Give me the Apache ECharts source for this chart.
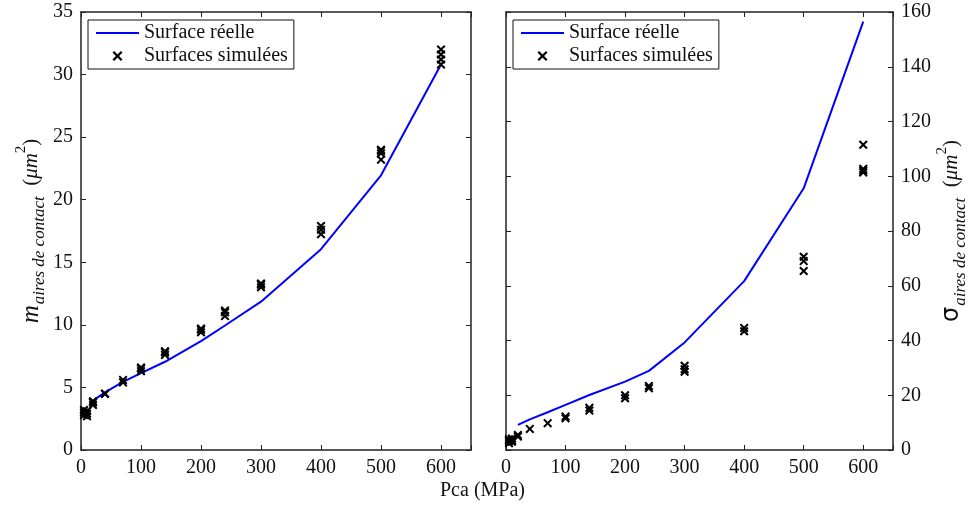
<!DOCTYPE html>
<html><head><meta charset="utf-8">
<script src="https://cdn.jsdelivr.net/npm/echarts@6/dist/echarts.min.js"></script>
<style>html,body{margin:0;padding:0;background:#fff}#c{width:973px;height:509px}</style>
</head><body><div id="c"></div>
<script>
// ---- data ----
const lineX = [20, 40, 70, 100, 140, 200, 240, 300, 400, 500, 600];
const meanReal = [3.95, 4.6, 5.45, 6.15, 7.05, 8.7, 9.95, 11.85, 16.05, 21.95, 30.8];
const sigmaReal = [9.2, 11.2, 13.8, 16.5, 20.1, 25.0, 28.9, 39.3, 61.7, 95.6, 156.5];
const simX = [5, 10, 20, 40, 70, 100, 140, 200, 240, 300, 400, 500, 600];
const meanSim = [
  [2.8, 3.0, 3.2], [2.7, 2.9, 3.1], [3.6, 3.8, 3.9], [4.5, 4.5], [5.4, 5.6],
  [6.3, 6.5, 6.6], [7.6, 7.8, 7.9], [9.4, 9.6, 9.7], [10.7, 11.0, 11.15],
  [13.0, 13.2, 13.3], [17.25, 17.6, 17.9], [23.2, 23.7, 23.9, 24.0], [30.8, 31.2, 31.6, 32.0]
];
const sigmaSim = [
  [2.5, 3.3, 3.9], [3.0, 3.6, 4.2], [4.9, 5.5], [7.7], [9.8],
  [11.6, 12.2], [14.4, 15.4], [18.9, 20.0], [22.6, 23.4],
  [28.6, 29.5, 30.8], [43.4, 44.6], [65.4, 69.0, 70.6], [101.4, 102.0, 102.7, 111.5]
];
const xTicks = [0, 100, 200, 300, 400, 500, 600];
const nameReal = 'Surface réelle';
const nameSim = 'Surfaces simulées';

// ---- build ----
const pairs = (xs, ys) => xs.map((x, i) => [x, ys[i]]);
const simPairs = (xs, groups) => xs.flatMap((x, i) => groups[i].map(v => [x, v]));
const FONT = 'Liberation Serif';
const crossBody = 'M0,1.6 L1.6,0 L5,3.4 L8.4,0 L10,1.6 L6.6,5 L10,8.4 L8.4,10 L5,6.6 L1.6,10 L0,8.4 L3.4,5 Z';
const crossPath = 'path://' + crossBody;
const crossLegend = 'path://M-2,-2 L-2,-2 Z ' + crossBody + ' M12,12 L12,12 Z';
const lineLegend = 'path://M0,0 L43,0 L43,2 L0,2 Z';
const axisCommon = () => ({
  axisLine: {show: true, onZero: false, lineStyle: {color: '#222', width: 1.5}},
  axisTick: {show: true, inside: true, length: 5, lineStyle: {color: '#222', width: 1}},
  splitLine: {show: false},
});
const xLabel = {color: '#111', fontFamily: FONT, fontSize: 20, margin: 8,
  formatter: v => (xTicks.indexOf(v) >= 0 ? String(v) : '')};
const yLabel = {color: '#111', fontFamily: FONT, fontSize: 20, margin: 8};
const grids = [
  {left: 81, right: 502, top: 12, bottom: 59},
  {left: 506, right: 80, top: 12, bottom: 59}
];
const xAxes = [], yAxes = [];
[0, 1].forEach(g => {
  xAxes.push(Object.assign({type: 'value', gridIndex: g, min: 0, max: 650, interval: 100, position: 'bottom',
    axisLabel: xLabel}, axisCommon()));
  xAxes.push(Object.assign({type: 'value', gridIndex: g, min: 0, max: 650, interval: 100, position: 'top',
    axisLabel: {show: false}}, axisCommon()));
});
const richName = {
  m: {fontFamily: FONT, fontSize: 25, fontStyle: 'italic', color: '#111', lineHeight: 34, verticalAlign: 'middle'},
  s: {fontFamily: 'DejaVu Sans', fontSize: 24, color: '#111', lineHeight: 34, verticalAlign: 'middle'},
  sub: {fontFamily: FONT, fontSize: 17, fontStyle: 'italic', color: '#111', lineHeight: 34, verticalAlign: 'bottom', padding: [0, 0, 0, 1]},
  u: {fontFamily: FONT, fontSize: 21, fontStyle: 'italic', color: '#111', lineHeight: 34, verticalAlign: 'middle'},
  p: {fontFamily: FONT, fontSize: 21, color: '#111', lineHeight: 34, verticalAlign: 'middle'},
  sup: {fontFamily: FONT, fontSize: 15, color: '#111', lineHeight: 34, verticalAlign: 'top'}
};
// left grid
yAxes.push(Object.assign({type: 'value', gridIndex: 0, min: 0, max: 35, interval: 5, position: 'left',
  axisLabel: yLabel, name: '{m|m}{sub|aires de contact}{p|  (}{u|μm}{sup|2}{p|)}',
  nameLocation: 'middle', nameGap: 33, nameRotate: 90, nameTextStyle: {rich: richName}}, axisCommon()));
yAxes.push(Object.assign({type: 'value', gridIndex: 0, min: 0, max: 35, interval: 5, position: 'right',
  axisLabel: {show: false}}, axisCommon()));
// right grid
yAxes.push(Object.assign({type: 'value', gridIndex: 1, min: 0, max: 160, interval: 20, position: 'left',
  axisLabel: {show: false}}, axisCommon()));
yAxes.push(Object.assign({type: 'value', gridIndex: 1, min: 0, max: 160, interval: 20, position: 'right',
  axisLabel: yLabel, name: '{s|σ}{sub|aires de contact}{p|  (}{u|μm}{sup|2}{p|)}',
  nameLocation: 'middle', nameGap: 32, nameRotate: 90, nameTextStyle: {rich: richName}}, axisCommon()));

const lineS = (xi, yi, data) => ({type: 'line', name: nameReal, xAxisIndex: xi, yAxisIndex: yi, data,
  symbol: 'none', lineStyle: {color: '#0000ff', width: 2}, itemStyle: {color: '#0000ff'}, z: 2, animation: false});
const scatS = (xi, yi, data) => ({type: 'scatter', name: nameSim, xAxisIndex: xi, yAxisIndex: yi, data,
  symbol: crossPath, symbolSize: 9, itemStyle: {color: '#000', opacity: 1}, z: 3, animation: false});

const legendCommon = {
  orient: 'vertical', top: 20, padding: [3, 6, 3, 8], itemGap: 3,
  itemWidth: 43, itemHeight: 14, borderColor: '#111', borderWidth: 1, borderRadius: 0,
  backgroundColor: '#fff', selectedMode: false,
  textStyle: {fontFamily: FONT, fontSize: 20, color: '#111', padding: [0, 0, 0, 0]},
  data: [{name: nameReal, icon: lineLegend}, {name: nameSim, icon: crossLegend}]
};
const option = {
  animation: false,
  grid: grids,
  xAxis: xAxes,
  yAxis: yAxes,
  legend: [Object.assign({left: 88}, legendCommon), Object.assign({left: 513}, legendCommon)],
  series: [
    lineS(0, 0, pairs(lineX, meanReal)),
    scatS(0, 0, simPairs(simX, meanSim)),
    lineS(2, 2, pairs(lineX, sigmaReal)),
    scatS(2, 2, simPairs(simX, sigmaSim))
  ],
  graphic: [{type: 'text', left: 440, top: 481,
    style: {text: 'Pca (MPa)', font: '20px "Liberation Serif"', fill: '#111'}}]
};
const chart = echarts.init(document.getElementById('c'), null, {renderer: 'canvas'});
chart.setOption(option);
</script></body></html>
